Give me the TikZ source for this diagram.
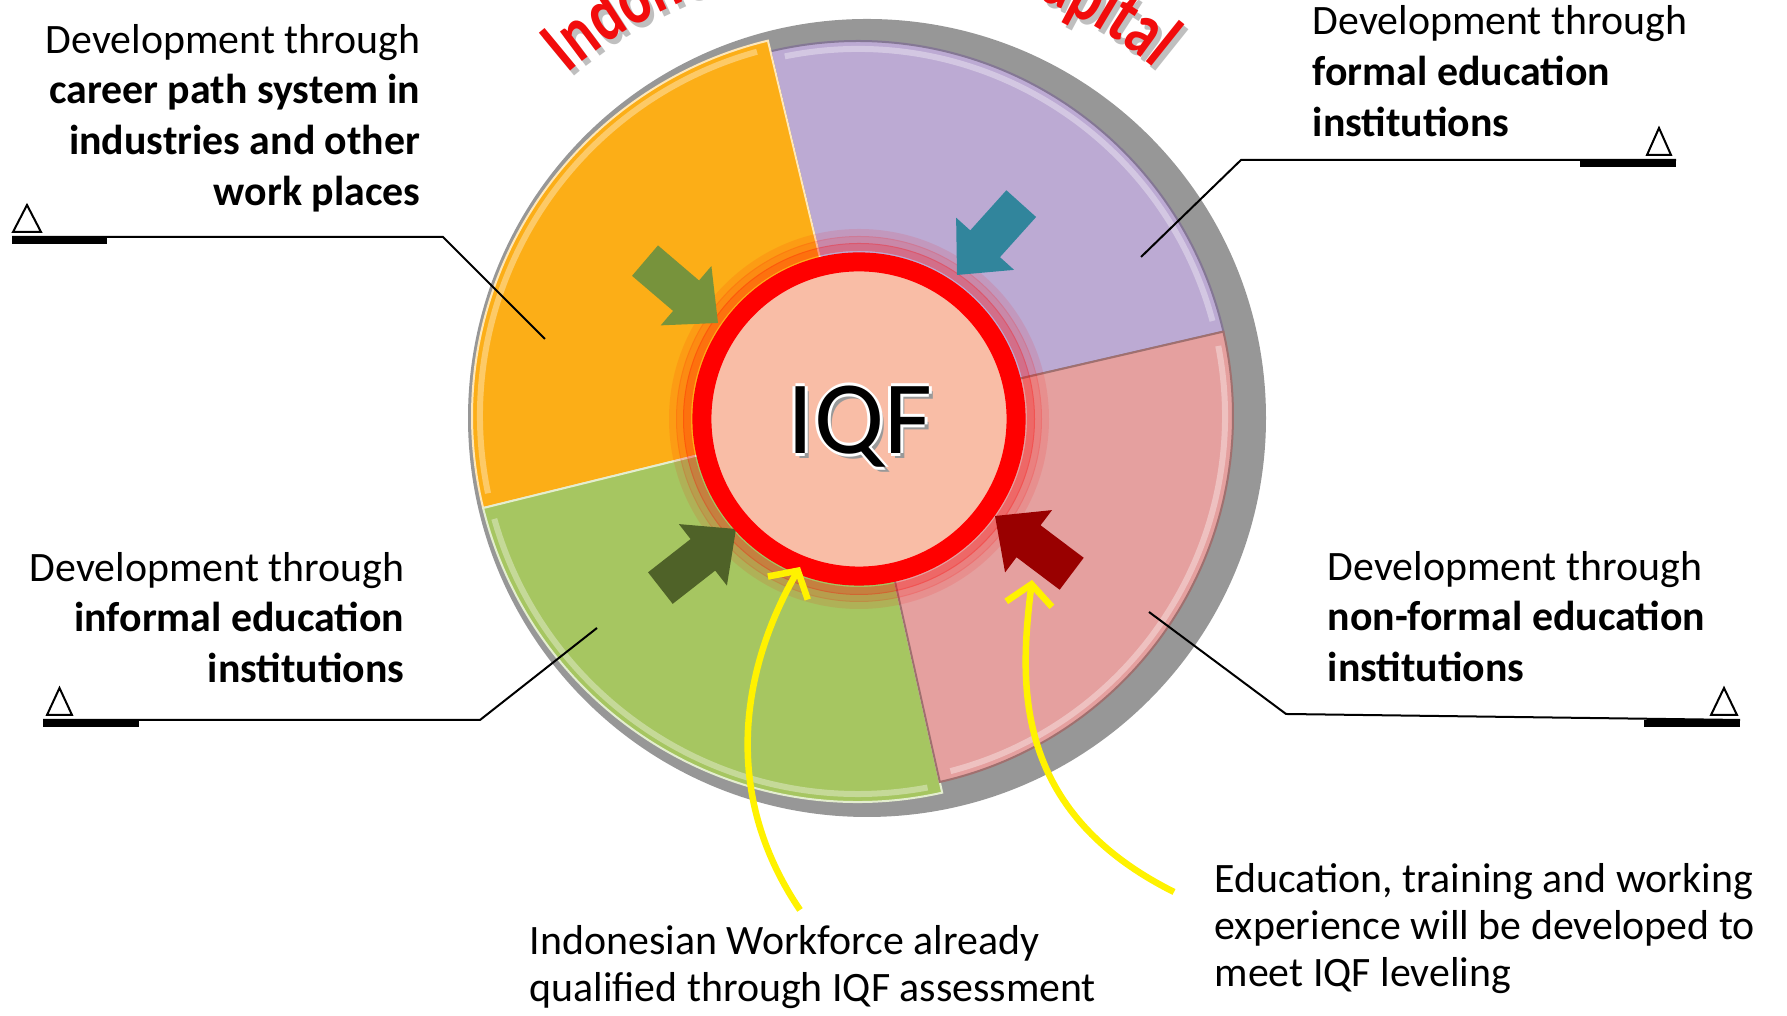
\documentclass[tikz,border=0pt]{standalone}
\usepackage{fontspec}
\setmainfont{Carlito}
\newfontfamily\titlefont{Carlito}[FakeStretch=0.76]
\usetikzlibrary{arrows.meta,decorations.text}

\definecolor{greydisc}{RGB}{151,151,151}
\definecolor{orangeseg}{RGB}{252,174,23}
\definecolor{purpleseg}{RGB}{188,170,211}
\definecolor{greenseg}{RGB}{166,198,97}
\definecolor{pinkseg}{RGB}{229,160,159}
\definecolor{iqffill}{RGB}{249,189,166}
\definecolor{olivearw}{RGB}{119,147,60}
\definecolor{tealarw}{RGB}{49,133,156}
\definecolor{darkgreenarw}{RGB}{79,98,40}
\definecolor{darkredarw}{RGB}{153,0,0}
\definecolor{titlered}{RGB}{242,12,12}

\newcommand{\titlestyle}{\titlefont\bfseries\fontsize{21.5}{24}\selectfont\color{titlered}}
\newcommand{\titleshadowstyle}{\titlefont\bfseries\fontsize{21.5}{24}\selectfont\color{black!25}}
\newcommand{\arrowshape}{(0,0) -- (-42,39) -- (-42,20) -- (-96,20) -- (-96,-20) -- (-42,-20) -- (-42,-39) -- cycle}

\begin{document}
\begin{tikzpicture}[
  x=0.01cm, y=0.01cm,
  callout/.style={inner sep=0pt, font=\fontsize{11.9}{14.5}\selectfont},
  note/.style={inner sep=0pt, align=left, anchor=base west, font=\fontsize{11.9}{13.4}\selectfont},
  sector/.style={line width=0.02cm},
  bevel/.style={line width=0.06cm, white, opacity=0.35},
  glow/.style={red, line width=0.08cm},
  iqfring/.style={circle, draw=red, line width=0.19cm, fill=iqffill, minimum size=3.14cm, inner sep=0pt},
  iqftext/.style={inner sep=0pt, anchor=base, font=\fontsize{29.6}{30}\selectfont},
  leader/.style={line width=0.02cm},
  marker/.style={line width=0.02cm, draw=black, fill=white},
  yarw/.style={draw=yellow, line width=0.065cm, -{Straight Barb[length=0.2cm, width=0.46cm]}}
  ]

\useasboundingbox (0,0) rectangle (1787,1016);
\clip (0,0) rectangle (1787,1016);

\coordinate (disc) at (867,598);
\coordinate (pie) at (858,600);
\coordinate (iqfc) at (859,597);
\coordinate (ttl) at (864,596);
\coordinate (ttlshadow) at (868,591);

\fill[greydisc] (disc) circle[radius=399];

\filldraw[sector, fill=purpleseg, draw=purpleseg!70!black] (pie) -- ++(13:375) arc[start angle=13, end angle=103.5, radius=375] -- cycle;
\filldraw[sector, fill=orangeseg, draw=white!70!orangeseg] (pie) -- ++(103.5:386) arc[start angle=103.5, end angle=193.8, radius=386] -- cycle;
\filldraw[sector, fill=greenseg, draw=white!70!greenseg] (pie) -- ++(193.8:386) arc[start angle=193.8, end angle=282.6, radius=386] -- cycle;
\filldraw[sector, fill=pinkseg, draw=pinkseg!70!black] (pie) -- ++(282.6:375) arc[start angle=282.6, end angle=373, radius=375] -- cycle;

\draw[bevel] ([shift={(15:367)}]pie) arc[start angle=15, end angle=101.5, radius=367];
\draw[bevel] ([shift={(105.5:378)}]pie) arc[start angle=105.5, end angle=191.8, radius=378];
\draw[bevel] ([shift={(195.8:378)}]pie) arc[start angle=195.8, end angle=280.6, radius=378];
\draw[bevel] ([shift={(284.6:367)}]pie) arc[start angle=284.6, end angle=371, radius=367];

\draw[glow, opacity=0.35] (iqfc) circle[radius=172];
\draw[glow, opacity=0.2] (iqfc) circle[radius=179];
\draw[glow, opacity=0.1] (iqfc) circle[radius=186];

\fill[olivearw, shift={(718,693)}, rotate=-40.5] \arrowshape;
\fill[tealarw, shift={(957,741)}, rotate=-132] \arrowshape;
\fill[darkgreenarw, shift={(736,487)}, rotate=38] \arrowshape;
\fill[darkredarw, shift={(995,500)}, rotate=143] \arrowshape;

\node[iqfring] (iqf) at (iqfc) {};
\node[iqftext, black!40] (iqfshadow) at (864,557) {IQF};
\node[iqftext, white] (iqfhaloL) at (857,562) {IQF};
\node[iqftext, white] (iqfhaloR) at (863,562) {IQF};
\node[iqftext, white] (iqfhaloU) at (860,565) {IQF};
\node[iqftext, white] (iqfhaloD) at (860,559) {IQF};
\node[iqftext] (iqflabel) at (860,562) {IQF};

\path[decorate, decoration={text along path, text align={fit to path stretching spaces},
  text={|\titleshadowstyle|Indonesian Human Capital}}]
  ([shift={(130.5:456)}]ttlshadow) arc[start angle=130.5, end angle=50.5, radius=456];
\path[decorate, decoration={text along path, text align={fit to path stretching spaces},
  text={|\titlestyle|Indonesian Human Capital}}]
  ([shift={(130.5:456)}]ttl) arc[start angle=130.5, end angle=50.5, radius=456];

\node[callout, align=right, anchor=base east] (careerText) at (421,810)
  {Development through\\\textbf{career path system in}\\\textbf{industries and other}\\\textbf{work places}};
\coordinate (careerIn) at (545,677);
\coordinate (careerBend) at (443,779);
\coordinate (careerEnd) at (12,779);
\draw[leader] (careerIn) -- (careerBend) -- (careerEnd);
\fill ([yshift=-2]careerEnd) rectangle ++(95,7);
\draw[marker] ([shift={(1,5)}]careerEnd) -- ++(14,27) -- ++(14,-27) -- cycle;

\node[callout, align=left, anchor=base west] (formalText) at (1312,879)
  {Development through\\\textbf{formal education}\\\textbf{institutions}};
\coordinate (formalIn) at (1141,759);
\coordinate (formalBend) at (1241,856);
\coordinate (formalEnd) at (1676,856);
\draw[leader] (formalIn) -- (formalBend) -- (formalEnd);
\fill ([yshift=-2]formalEnd) rectangle ++(-96,7);
\draw[marker] ([shift={(-5,5)}]formalEnd) -- ++(-12,27) -- ++(-12,-27) -- cycle;

\node[callout, align=right, anchor=base east] (informalText) at (405,333)
  {Development through\\\textbf{informal education}\\\textbf{institutions}};
\coordinate (informalIn) at (597,388);
\coordinate (informalBend) at (480,296);
\coordinate (informalEnd) at (43,296);
\draw[leader] (informalIn) -- (informalBend) -- (informalEnd);
\fill ([yshift=-2]informalEnd) rectangle ++(96,7);
\draw[marker] ([shift={(4,5)}]informalEnd) -- ++(12.5,27) -- ++(12.5,-27) -- cycle;

\node[callout, align=left, anchor=base west] (nonformalText) at (1327,334)
  {Development through\\\textbf{non-formal education}\\\textbf{institutions}};
\coordinate (nonformalIn) at (1149,404);
\coordinate (nonformalBend) at (1286,302);
\coordinate (nonformalEnd) at (1740,296);
\draw[leader] (nonformalIn) -- (nonformalBend) -- (nonformalEnd);
\fill ([yshift=-2]nonformalEnd) rectangle ++(-96,7);
\draw[marker] ([shift={(-3,5)}]nonformalEnd) -- ++(-13,27) -- ++(-13,-27) -- cycle;

\node[note] (qualifiedText) at (529,14)
  {Indonesian Workforce already\\qualified through IQF assessment};
\node[note] (developText) at (1214,29)
  {Education, training and working\\experience will be developed to\\meet IQF leveling};

\coordinate (qualifiedStart) at (800,106);
\coordinate (qualifiedTip) at (800,449);
\draw[yarw] (qualifiedStart) .. controls (712,236) and (752,366) .. (qualifiedTip);
\coordinate (developStart) at (1174,124);
\coordinate (developTip) at (1032,436);
\draw[yarw] (developStart) .. controls (1010,206) and (1020,336) .. (developTip);

\end{tikzpicture}
\end{document}
